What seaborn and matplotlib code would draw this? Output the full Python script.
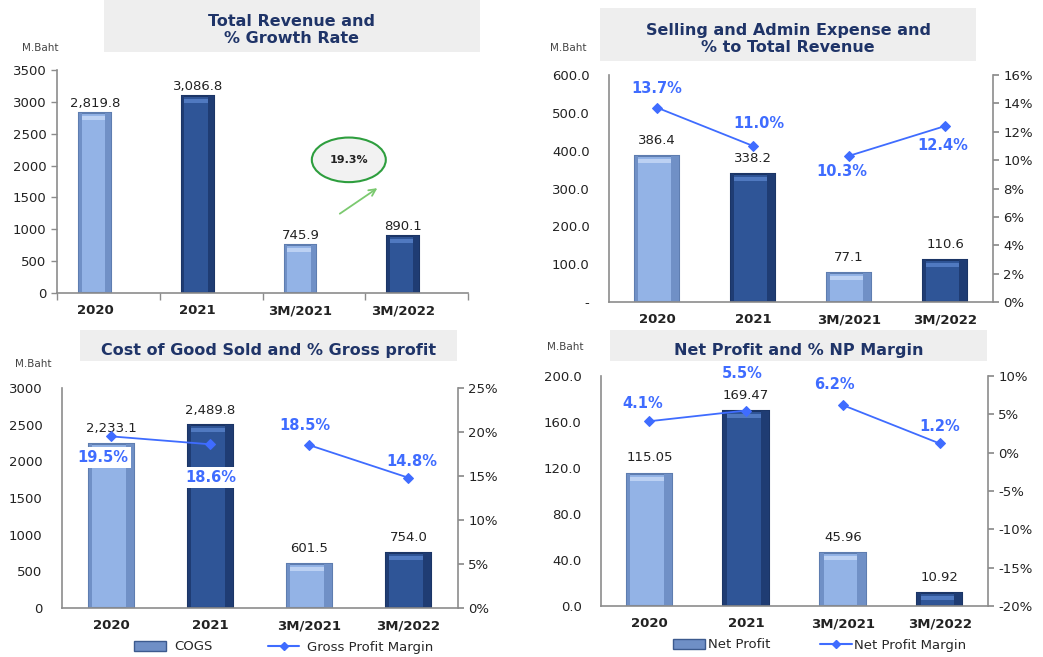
import numpy as np
import pandas as pd
import seaborn as sns
import matplotlib.pyplot as plt
from matplotlib.patches import Rectangle, Ellipse, Patch
from matplotlib.lines import Line2D
from matplotlib.ticker import FuncFormatter

sns.set_theme(style="white")
plt.rcParams['font.family'] = ['DejaVu Sans']

# data
periods = ["2020", "2021", "3M/2021", "3M/2022"]
revenue = [2819.8, 3086.8, 745.9, 890.1]
sga = [386.4, 338.2, 77.1, 110.6]
sga_pct = [13.7, 11.0, 10.3, 12.4]
cogs = [2233.1, 2489.8, 601.5, 754.0]
gp_pct = [19.5, 18.6, 18.5, 14.8]
net_profit = [115.05, 169.47, 45.96, 10.92]
np_pct = [4.1, 5.5, 6.2, 1.2]
growth = (revenue[3] / revenue[2] - 1) * 100

LIGHT = "#93B3E6"
DARK = "#2F5597"
EDGES = ["#5E7DB0", "#1B3566", "#5E7DB0", "#1B3566"]
TOPS = ["#BCD1F3", "#5079C0", "#BCD1F3", "#5079C0"]
SIDES = ["#7090C6", "#1F3C73", "#7090C6", "#1F3C73"]
PCT_BLUE = "#3F6CFF"
NAVY = "#1F3468"
GRAY = "#8C8C8C"

W, H = 1043, 657
fig = plt.figure(figsize=(W / 100, H / 100), dpi=100)
fig.patch.set_facecolor("white")


def px_axes(x0, y0, x1, y1):
    return fig.add_axes([x0 / W, 1 - y1 / H, (x1 - x0) / W, (y1 - y0) / H])


def title_box(x0, y0, x1, y1, text, cy):
    fig.patches.append(Rectangle((x0 / W, 1 - y1 / H), (x1 - x0) / W, (y1 - y0) / H,
                                 transform=fig.transFigure, facecolor="#EEEEEE",
                                 edgecolor="none", zorder=0))
    fig.text((x0 + x1) / 2 / W, 1 - cy / H, text, ha="center", va="center",
             fontsize=11.5, fontweight="bold", color=NAVY, linespacing=1.2)


def style_axes(ax):
    sns.despine(ax=ax, top=True, right=True)
    for s in ["left", "bottom"]:
        ax.spines[s].set_color(GRAY)
        ax.spines[s].set_linewidth(1.2)
    ax.tick_params(axis="y", labelsize=9.5, colors="#222222", length=4, color=GRAY,
                   left=True, width=1)
    ax.tick_params(axis="x", labelsize=9.5, length=0, pad=8)
    for lab in ax.get_xticklabels():
        lab.set_fontweight("bold")
        lab.set_color("#222222")
    ax.set_xlabel("")
    ax.set_ylabel("")


def bars(ax, values, width, ax_h_px):
    df = pd.DataFrame({"period": periods, "value": values})
    sns.barplot(data=df, x="period", y="value", hue="period",
                palette=[LIGHT, DARK, LIGHT, DARK], width=width, legend=False,
                ax=ax, saturation=1)
    lo, hi = ax.get_ylim()
    strip = 5 * (hi - lo) / ax_h_px
    for p, ec, tc, sc in zip(list(ax.patches), EDGES, TOPS, SIDES):
        p.set_edgecolor(ec)
        p.set_linewidth(1.5)
        x, w, h = p.get_x(), p.get_width(), p.get_height()
        s = min(strip, h * 0.4)
        # bevel look: darker sides, light strip at the top
        ax.add_patch(Rectangle((x + w * 0.82, 0), w * 0.18, h, facecolor=sc,
                               edgecolor="none", zorder=2.5))
        ax.add_patch(Rectangle((x, 0), w * 0.08, h, facecolor=sc,
                               edgecolor="none", zorder=2.5))
        ax.add_patch(Rectangle((x + w * 0.08, h - s * 1.4), w * 0.74, s * 0.8,
                               facecolor=tc, edgecolor="none", zorder=2.6))


def pct_line(ax2, values):
    df = pd.DataFrame({"pos": np.arange(4), "pct": values, "seg": [0, 0, 1, 1]})
    sns.lineplot(data=df, x="pos", y="pct", units="seg", estimator=None,
                 color=PCT_BLUE, marker="D", markersize=5, markeredgecolor=PCT_BLUE,
                 linewidth=1.3, ax=ax2)
    ax2.set_xlabel("")
    ax2.set_ylabel("")


def right_axis(ax2, lo, hi, step):
    ax2.set_ylim(lo, hi)
    ax2.set_yticks(np.arange(lo, hi + step / 2, step))
    ax2.yaxis.set_major_formatter(FuncFormatter(lambda v, _: f"{v:.0f}%"))
    for s in ["top", "left", "bottom"]:
        ax2.spines[s].set_visible(False)
    ax2.spines["right"].set_color(GRAY)
    ax2.spines["right"].set_linewidth(1.2)
    ax2.tick_params(axis="y", labelsize=9.5, colors="#222222", length=4, color=GRAY,
                    right=True, left=False)


def pct_labels(ax2, values, offsets, boxed=()):
    for i, (v, off) in enumerate(zip(values, offsets)):
        kw = {}
        if i in boxed:
            kw["bbox"] = dict(facecolor="white", edgecolor="none", pad=2)
        ax2.annotate(f"{v:.1f}%", (i, v), textcoords="offset points", xytext=off,
                     ha="center", va="center", fontsize=10.5, fontweight="bold",
                     color=PCT_BLUE, **kw)


def value_labels(ax, values, fmt, dy):
    for i, v in enumerate(values):
        ax.annotate(fmt(v), (i, v), textcoords="offset points", xytext=(0, dy),
                    ha="center", va="center", fontsize=9.5, color="#222222")


# ---------- Total revenue ----------
title_box(104, -2, 480, 52, "Total Revenue and\n% Growth Rate", 30)
fig.text(22 / W, 1 - 48 / H, "M.Baht", fontsize=7.5, color="#444444", va="center")
ax = px_axes(57, 70, 468, 293)
ax.set_ylim(0, 3500)
bars(ax, revenue, 0.31, 223)
ax.set_xlim(-0.37, 3.63)
ax.set_ylim(0, 3500)
ax.set_yticks(range(0, 3501, 500))
style_axes(ax)
ax.set_xticks(np.arange(5) - 0.37, minor=True)
ax.tick_params(axis="x", which="minor", length=5, color=GRAY, bottom=True, width=1)
value_labels(ax, revenue, lambda v: f"{v:,.1f}", dy=7)
ax.add_patch(Ellipse((2.47, 2090), 0.72, 700, facecolor="#F2F2F2",
                     edgecolor="#2E9E3E", linewidth=1.5, zorder=3))
ax.text(2.47, 2090, f"{growth:.1f}%", ha="center", va="center", fontsize=8,
        fontweight="bold", color="#222222", zorder=4)
ax.annotate("", xy=(2.77, 1670), xytext=(2.36, 1220),
            arrowprops=dict(arrowstyle="->", color="#7BC96F", lw=1.3))

# ---------- Selling and admin ----------
title_box(600, 8, 976, 61, "Selling and Admin Expense and\n% to Total Revenue", 39)
fig.text(550 / W, 1 - 48 / H, "M.Baht", fontsize=7.5, color="#444444", va="center")
ax = px_axes(609, 75, 993, 302)
ax.set_ylim(0, 600)
bars(ax, sga, 0.46, 227)
ax.set_xlim(-0.5, 3.5)
ax.set_ylim(0, 600)
ax.set_yticks(range(0, 601, 100))
ax.yaxis.set_major_formatter(FuncFormatter(lambda v, _: "-" if v == 0 else f"{v:.1f}"))
style_axes(ax)
ax.tick_params(axis="y", length=0, pad=14)
value_labels(ax, sga, lambda v: f"{v:.1f}", dy=11)
ax2 = ax.twinx()
pct_line(ax2, sga_pct)
right_axis(ax2, 0, 16, 2)
ax2.set_xlim(-0.5, 3.5)
pct_labels(ax2, sga_pct, [(0, 14), (4, 16), (-5, -11.5), (-1.5, -14)])

# ---------- COGS ----------
title_box(80, 330, 457, 361, "Cost of Good Sold and % Gross profit", 350)
fig.text(15 / W, 1 - 364 / H, "M.Baht", fontsize=7.5, color="#444444", va="center")
ax = px_axes(62, 388, 458, 608)
ax.set_ylim(0, 3000)
bars(ax, cogs, 0.46, 220)
ax.set_xlim(-0.5, 3.5)
ax.set_ylim(0, 3000)
ax.set_yticks(range(0, 3001, 500))
style_axes(ax)
ax.tick_params(axis="y", length=0, pad=14)
value_labels(ax, cogs, lambda v: f"{v:,.1f}", dy=11)
ax2 = ax.twinx()
pct_line(ax2, gp_pct)
right_axis(ax2, 0, 25, 5)
ax2.set_xlim(-0.5, 3.5)
pct_labels(ax2, gp_pct, [(-6.5, -15), (0, -24), (-3, 14), (2.5, 12)], boxed=(0, 1))
fig.legend(handles=[Patch(facecolor="#6F8FC6", edgecolor="#3C5A8E", label="COGS"),
                    Line2D([], [], color=PCT_BLUE, marker="D", markersize=4,
                           label="Gross Profit Margin")],
           loc="center", bbox_to_anchor=(284 / W, 1 - 647 / H), ncol=2, frameon=False,
           fontsize=9.5, handlelength=2.4, columnspacing=4.2, handletextpad=0.6)

# ---------- Net profit ----------
title_box(610, 330, 987, 361, "Net Profit and % NP Margin", 350)
fig.text(547 / W, 1 - 347 / H, "M.Baht", fontsize=7.5, color="#444444", va="center")
ax = px_axes(601, 376, 988, 606)
ax.set_ylim(0, 200)
bars(ax, net_profit, 0.47, 230)
ax.set_xlim(-0.5, 3.5)
ax.set_ylim(0, 200)
ax.set_yticks(range(0, 201, 40))
ax.yaxis.set_major_formatter(FuncFormatter(lambda v, _: f"{v:.1f}"))
style_axes(ax)
ax.tick_params(axis="y", length=0, pad=14)
value_labels(ax, net_profit, lambda v: f"{v:.2f}", dy=11.5)
ax2 = ax.twinx()
pct_line(ax2, np_pct)
right_axis(ax2, -20, 10, 5)
ax2.set_xlim(-0.5, 3.5)
pct_labels(ax2, np_pct, [(-5, 13), (-3, 27), (-6, 15), (0, 12.5)])
fig.legend(handles=[Patch(facecolor="#6F8FC6", edgecolor="#3C5A8E", label="Net Profit"),
                    Line2D([], [], color=PCT_BLUE, marker="D", markersize=4,
                           label="Net Profit Margin")],
           loc="center", bbox_to_anchor=(820 / W, 1 - 645 / H), ncol=2, frameon=False,
           fontsize=9.5, handlelength=2.4, columnspacing=3.8, handletextpad=0.2)

fig.savefig("out.png", dpi=100)
